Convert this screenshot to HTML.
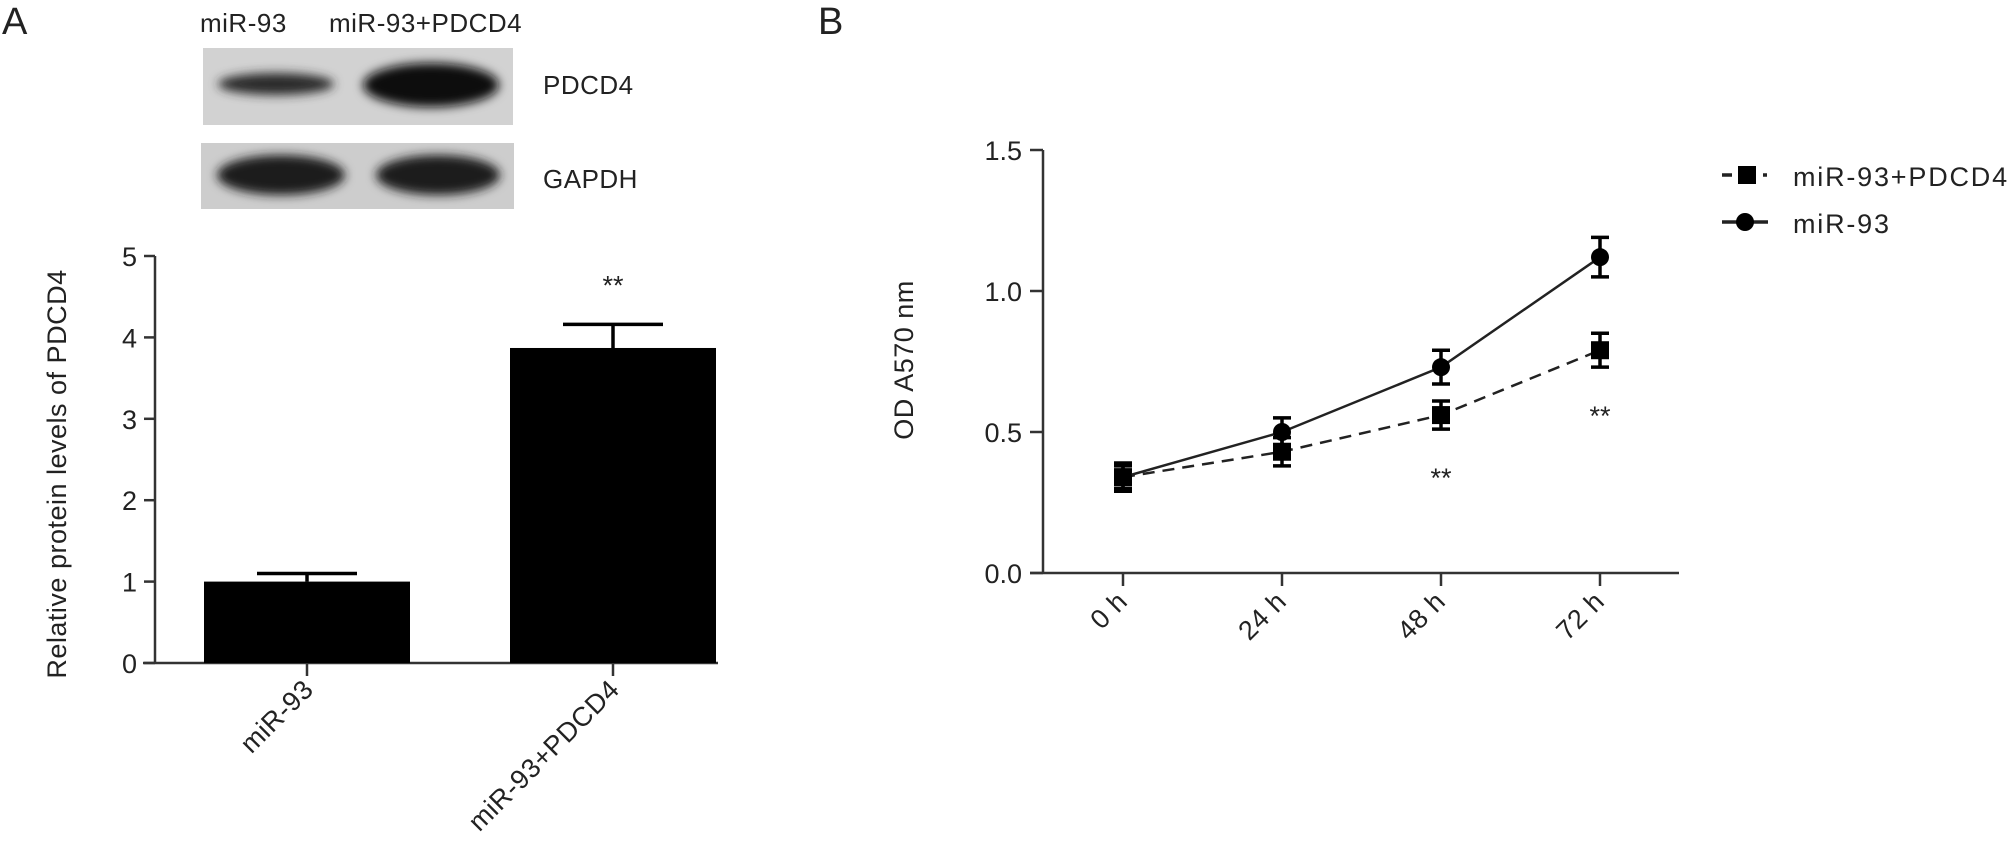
<!DOCTYPE html>
<html><head><meta charset="utf-8"><style>
html,body{margin:0;padding:0;background:#fff;width:2008px;height:841px;overflow:hidden}
svg{display:block}
text{font-family:"Liberation Sans",Arial,sans-serif;fill:#222}
</style></head><body>
<svg id="fig" width="2008" height="841" viewBox="0 0 2008 841">
<defs>
<filter id="blur" x="-20%" y="-50%" width="140%" height="200%"><feGaussianBlur stdDeviation="5"/></filter>
</defs>
<text x="2" y="34" font-size="38">A</text>
<text x="818" y="34" font-size="38">B</text>
<g>
<text x="200" y="32" font-size="26" letter-spacing="0.5">miR-93</text>
<text x="329" y="32" font-size="26" letter-spacing="0.5">miR-93+PDCD4</text>
<rect x="203" y="48" width="310" height="77" fill="#d2d2d2"/>
<rect x="201" y="143" width="313" height="66" fill="#cdcdcd"/>
<g filter="url(#blur)">
<ellipse cx="276" cy="84" rx="58" ry="11" fill="#2a2a2a"/>
<ellipse cx="431" cy="85" rx="68" ry="22" fill="#111"/>
<ellipse cx="281" cy="175" rx="64" ry="20" fill="#1a1a1a"/>
<ellipse cx="438" cy="175" rx="62" ry="20" fill="#1a1a1a"/>
</g>
<text x="543" y="94" font-size="26" letter-spacing="0.5">PDCD4</text>
<text x="543" y="188" font-size="26" letter-spacing="0.5">GAPDH</text>
</g>
<g id="chartA"></g>
<g id="chartB"></g>
</svg>
<script>
const barCategories = ["miR-93", "miR-93+PDCD4"];
const barValues = [1.0, 3.87];
const barErrors = [0.1, 0.29];
const barTicks = ["0", "1", "2", "3", "4", "5"];
const barStars = ["", "**"];

const timeLabels = ["0 h", "24 h", "48 h", "72 h"];
const mir93Values = [0.34, 0.50, 0.73, 1.12];
const mir93Errors = [0.04, 0.05, 0.06, 0.07];
const pdcd4Values = [0.34, 0.43, 0.56, 0.79];
const pdcd4Errors = [0.05, 0.05, 0.05, 0.06];
const lineTicks = ["0.0", "0.5", "1.0", "1.5"];
const lineStars = ["", "", "**", "**"];

const NS = "http://www.w3.org/2000/svg";
function mk(parent, tag, attrs, txt) {
  const e = document.createElementNS(NS, tag);
  for (const k in attrs) e.setAttribute(k, attrs[k]);
  if (txt !== undefined) e.textContent = txt;
  parent.appendChild(e);
  return e;
}
const AX = "#333";
const FS = 27;

// ---- Chart A ----
const A = document.getElementById("chartA");
const ay = v => 663 - v * 81.4;
const ax = i => 307 + i * 306;
let e;
e = mk(A, "line", {x1:155, y1:ay(0), x2:155, y2:ay(5), stroke:AX, "stroke-width":2.5});


e = mk(A, "line", {x1:143, y1:ay(0), x2:718, y2:ay(0), stroke:AX, "stroke-width":2.5});


barTicks.forEach((t, i) => {
  const v = +t;
  let l = mk(A, "line", {x1:144, y1:ay(v), x2:155, y2:ay(v), stroke:AX, "stroke-width":2.5});
  
  
  let tx = mk(A, "text", {x:137, y:ay(v) + 10, "font-size":FS, "text-anchor":"end"}, t);
  
  
});
e = mk(A, "text", {x:0, y:0, "font-size":FS, "letter-spacing":"0.5", "text-anchor":"middle", transform:"translate(66,474) rotate(-90)"}, "Relative protein levels of PDCD4");


barCategories.forEach((c, i) => {
  const cx = ax(i);
  let r = mk(A, "rect", {x:cx - 103, y:ay(barValues[i]), width:206, height:ay(0) - ay(barValues[i]), fill:"#000"});
  
  
  const top = ay(barValues[i] + barErrors[i]);
  let eb = mk(A, "path", {d:`M${cx},${ay(barValues[i])}V${top}M${cx-50},${top}H${cx+50}`, stroke:"#000", "stroke-width":3.5, fill:"none"});
  
  
  let tk = mk(A, "line", {x1:cx, y1:ay(0), x2:cx, y2:ay(0) + 13, stroke:AX, "stroke-width":2.5});
  
  
  let tl = mk(A, "text", {x:0, y:0, "font-size":FS, "letter-spacing":"0.5", "text-anchor":"end", transform:`translate(${cx+8},${ay(0)+28}) rotate(-45)`}, c);
  
  
  if (barStars[i]) {
    let s = mk(A, "text", {x:cx, y:ay(barValues[i] + barErrors[i]) - 30, "font-size":FS, "text-anchor":"middle", fill:"#555"}, barStars[i]);
    
    
  }
});

// ---- Chart B ----
const B = document.getElementById("chartB");
const by = v => 573 - v * 282;
const bx = i => 1123 + i * 159;
e = mk(B, "line", {x1:1043, y1:by(0), x2:1043, y2:by(1.5), stroke:AX, "stroke-width":2.5});


e = mk(B, "line", {x1:1030, y1:by(0), x2:1679, y2:by(0), stroke:AX, "stroke-width":2.5});


lineTicks.forEach(t => {
  const v = +t;
  let l = mk(B, "line", {x1:1030, y1:by(v), x2:1043, y2:by(v), stroke:AX, "stroke-width":2.5});
  
  
  let tx = mk(B, "text", {x:1022, y:by(v) + 10, "font-size":FS, "text-anchor":"end"}, t);
  
  
});
e = mk(B, "text", {x:0, y:0, "font-size":FS, "letter-spacing":"0.5", "text-anchor":"middle", transform:"translate(913,360) rotate(-90)"}, "OD A570 nm");


timeLabels.forEach((t, i) => {
  const cx = bx(i);
  let tk = mk(B, "line", {x1:cx, y1:by(0), x2:cx, y2:by(0) + 13, stroke:AX, "stroke-width":2.5});
  
  
  let tl = mk(B, "text", {x:0, y:0, "font-size":FS, "letter-spacing":"0.5", "text-anchor":"end", transform:`translate(${cx+6},${by(0)+30}) rotate(-45)`}, t);
  
  
});
function series(vals, errs, dashed, marker, name) {
  const d = vals.map((v, i) => (i ? "L" : "M") + bx(i) + "," + by(v)).join("");
  let p = mk(B, "path", {d:d, fill:"none", stroke:"#222", "stroke-width":2.5, "stroke-dasharray":dashed ? "12,8" : "none"});
  
  
  vals.forEach((v, i) => {
    const cx = bx(i), hi = by(v + errs[i]), lo = by(v - errs[i]);
    let eb = mk(B, "path", {d:`M${cx},${hi}V${lo}M${cx-9},${hi}H${cx+9}M${cx-9},${lo}H${cx+9}`, stroke:"#000", "stroke-width":3.5, fill:"none"});
    
    
    let m = marker === "sq" ? mk(B, "rect", {x:cx-9, y:by(v)-9, width:18, height:18, fill:"#000"})
                            : mk(B, "circle", {cx:cx, cy:by(v), r:9, fill:"#000"});
    
    
  });
}
series(pdcd4Values, pdcd4Errors, true, "sq", "mir93-pdcd4");
series(mir93Values, mir93Errors, false, "ci", "mir93");
lineStars.forEach((s, i) => {
  if (!s) return;
  let t = mk(B, "text", {x:bx(i), y:by(pdcd4Values[i] - pdcd4Errors[i]) + 58, "font-size":FS, "text-anchor":"middle", fill:"#555"}, s);
  
  
});
// legend
const lg = mk(B, "g", {});


let l1 = mk(lg, "path", {d:"M1722,175H1732M1763,175H1767", stroke:"#222", "stroke-width":3.5});


let m1 = mk(lg, "rect", {x:1738, y:166, width:18, height:18, fill:"#000"});


let t1 = mk(lg, "text", {x:1793, y:186, "font-size":27, "letter-spacing":"1.8"}, "miR-93+PDCD4");


let l2 = mk(lg, "path", {d:"M1722,222H1768", stroke:"#222", "stroke-width":3.5});


let m2 = mk(lg, "circle", {cx:1745, cy:222, r:9, fill:"#000"});


let t2 = mk(lg, "text", {x:1793, y:233, "font-size":27, "letter-spacing":"1.8"}, "miR-93");


</script>
</body></html>
